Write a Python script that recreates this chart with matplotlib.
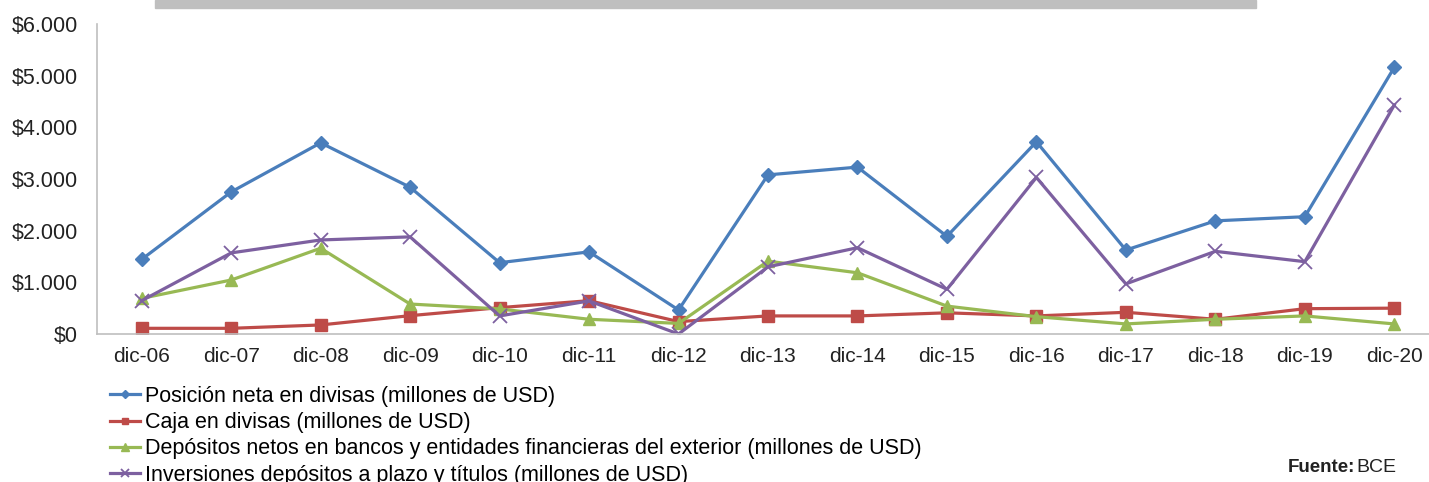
import matplotlib.pyplot as plt
from matplotlib.patches import Rectangle

plt.rcParams['font.family'] = ['Liberation Sans', 'DejaVu Sans']

# datos (millones de USD)
years = ['dic-06', 'dic-07', 'dic-08', 'dic-09', 'dic-10', 'dic-11', 'dic-12', 'dic-13',
         'dic-14', 'dic-15', 'dic-16', 'dic-17', 'dic-18', 'dic-19', 'dic-20']
posicion_neta = [1445, 2750, 3700, 2840, 1380, 1590, 465, 3080, 3230, 1890, 3720, 1625, 2190, 2270, 5160]
caja = [110, 110, 175, 355, 510, 645, 240, 350, 350, 410, 350, 420, 285, 490, 500]
depositos = [690, 1045, 1660, 580, 485, 285, 205, 1410, 1185, 540, 335, 195, 285, 350, 195]
inversiones = [645, 1570, 1820, 1880, 350, 640, 0, 1300, 1670, 865, 3030, 970, 1600, 1400, 4430]

labels = ['Posición neta en divisas (millones de USD)',
          'Caja en divisas (millones de USD)',
          'Depósitos netos en bancos y entidades financieras del exterior (millones de USD)',
          'Inversiones depósitos a plazo y títulos (millones de USD)']
yticks = [0, 1000, 2000, 3000, 4000, 5000, 6000]
ytick_labels = ['$0', '$1.000', '$2.000', '$3.000', '$4.000', '$5.000', '$6.000']

W, H = 1429, 482
fig = plt.figure(figsize=(W / 100, H / 100), dpi=100)
ax = fig.add_axes([97 / W, (H - 334) / H, (1439 - 97) / W, 310 / H])

x = range(len(years))
ax.plot(x, posicion_neta, color='#4a7ebb', lw=2.3, marker='D', ms=7, label=labels[0])
ax.plot(x, caja, color='#be4b48', lw=2.3, marker='s', ms=8, label=labels[1])
ax.plot(x, depositos, color='#98b954', lw=2.3, marker='^', ms=9, label=labels[2])
ax.plot(x, inversiones, color='#7d60a0', lw=2.3, marker='x', ms=10, mew=1.3, label=labels[3])

ax.set_xlim(-0.5, 14.5)
ax.set_ylim(0, 6000)
ax.set_xticks(list(x))
ax.set_xticklabels(years, fontsize=15, color='#222222')
ax.set_yticks(yticks)
ax.set_yticklabels(ytick_labels, fontsize=15.5, color='#222222')
ax.tick_params(length=0, pad=9)
ax.tick_params(axis='y', pad=14)
for s in ['top', 'right']:
    ax.spines[s].set_visible(False)
for s in ['left', 'bottom']:
    ax.spines[s].set_color('#bfbfbf')
    ax.spines[s].set_linewidth(1.2)

fig.legend(loc='upper left', bbox_to_anchor=(110 / W, 1 - 386 / H), frameon=False,
           fontsize=15.5, handlelength=1.4, handletextpad=0.22, labelspacing=0.24,
           borderaxespad=0, borderpad=0, markerscale=0.6)

# barra gris superior
fig.patches.append(Rectangle((155 / W, 1 - 8 / H), (1256 - 155) / W, 8 / H,
                             transform=fig.transFigure, color='#bfbfbf'))

fig.text(1288 / W, 1 - 467 / H, 'Fuente:', fontsize=13.5, fontweight='bold',
         va='center', ha='left', color='#222222')
fig.text(1356 / W, 1 - 467 / H, 'BCE', fontsize=14, va='center', ha='left', color='#222222')

fig.savefig('out.png', dpi=100)
